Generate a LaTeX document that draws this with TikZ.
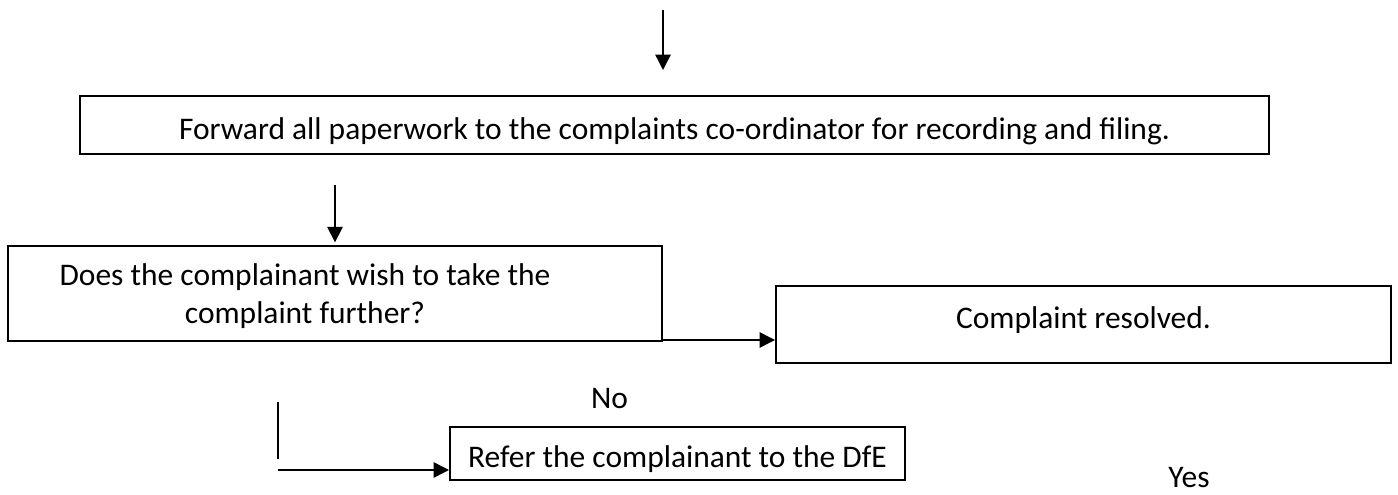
\documentclass[tikz,border=0pt]{standalone}
\usepackage{fontspec}
\setmainfont{Carlito}
\usetikzlibrary{arrows.meta}
\begin{document}
\begin{tikzpicture}[x=0.75pt,y=-0.75pt,
  txt/.style={font=\fontsize{23.6}{28.5}\selectfont},
  box/.style={draw, line width=1.5pt, inner sep=0pt, txt},
  conn/.style={line width=1.1pt, -{Triangle[length=11.5pt,width=11.5pt]}},
  plain/.style={line width=1.1pt},
  lbl/.style={inner sep=0pt, anchor=base, txt}]
\path[use as bounding box] (0,0) rectangle (1398,495);
% boxes
\node[box, minimum width=891.75pt, minimum height=43.5pt, text height=21.5pt, text depth=0pt] (b1) at (674.5,125)
  {Forward all paperwork to the complaints co-ordinator for recording and filing.};
\node[box, minimum width=490.5pt, minimum height=71.25pt, text height=15pt, text depth=27.75pt] (b2) at (335,293.5)
  {\begin{tabular}[t]{@{}c@{}}Does the complainant wish to take the\\complaint further?\end{tabular}\hspace*{45pt}};
\node[box, minimum width=461.25pt, minimum height=57.75pt, text height=15pt, text depth=9.75pt] (b3) at (1083.5,324.5)
  {Complaint resolved.};
\node[box, minimum width=341.25pt, minimum height=39.75pt, text height=20.25pt, text depth=0pt] (b4) at (677.5,453.5)
  {Refer the complainant to the DfE};
% labels
\node[lbl] (no) at (609.5,408) {No};
\node[lbl] (yes) at (1189,487) {Yes};
% connectors
\coordinate (t0) at (663,10);
\coordinate (t1) at (663,70);
\draw[conn] (t0) -- (t1);
\coordinate (m0) at (335,185);
\draw[conn, shorten >=2pt] (m0) -- (b2.north);
\coordinate (h0) at ([yshift=1.5pt]b2.south east);
\draw[conn] (h0) -- (h0 -| b3.west);
\coordinate (v0) at (278,402);
\coordinate (v1) at (278,459);
\draw[plain] (v0) -- (v1);
\coordinate (r0) at (278,470);
\draw[conn] (r0) -- (r0 -| b4.west);
\end{tikzpicture}
\end{document}
